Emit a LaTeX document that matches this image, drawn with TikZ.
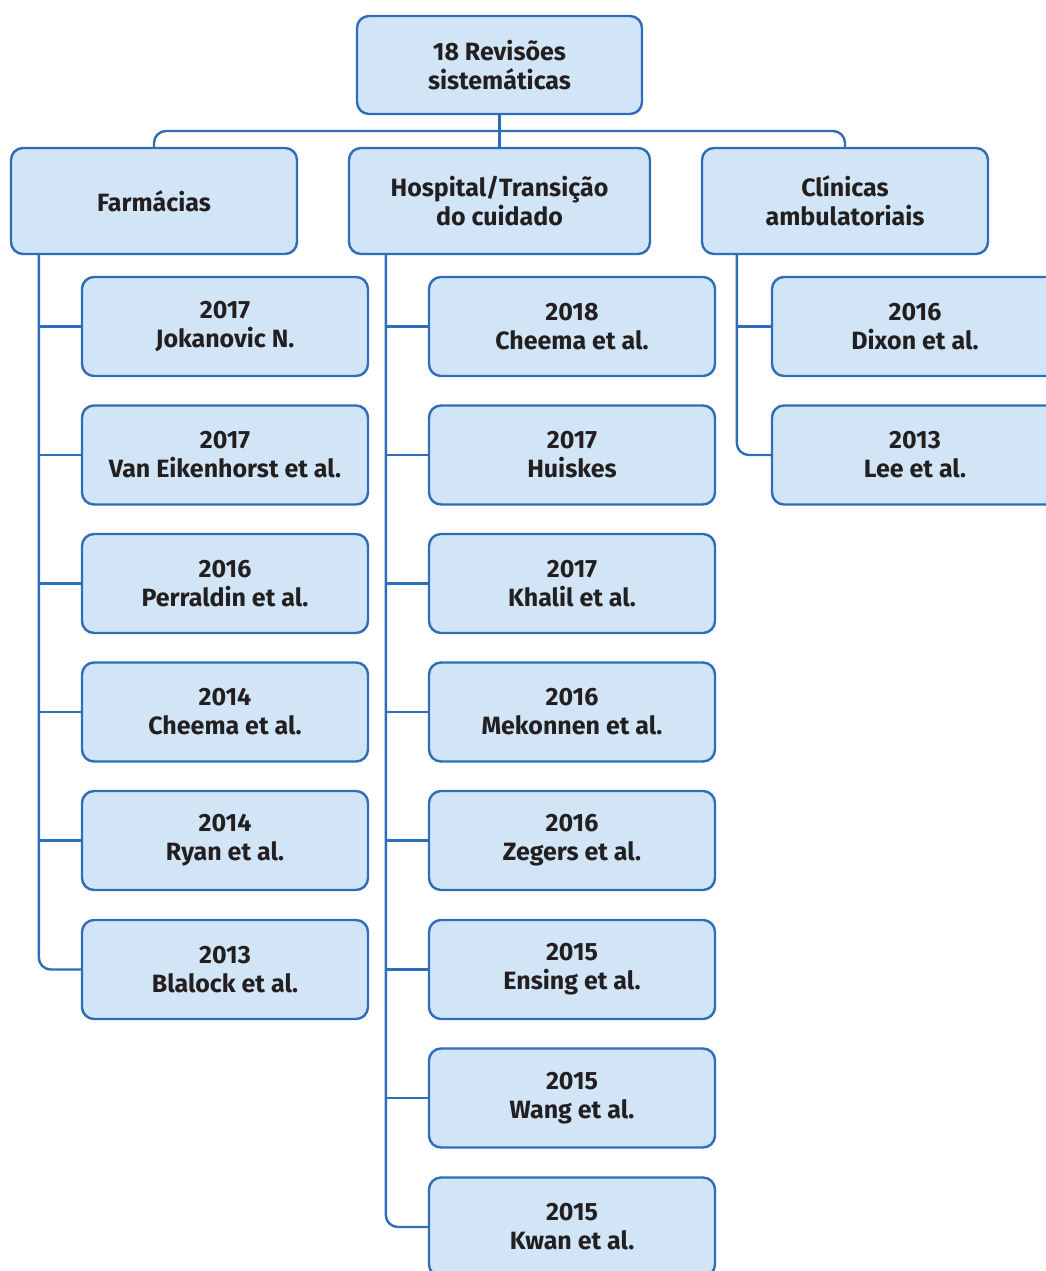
\documentclass[tikz,border=0pt]{standalone}
\usepackage{fontspec}
\setmainfont{Fira Sans}
\definecolor{boxfill}{HTML}{D2E5F6}
\definecolor{boxline}{HTML}{2F6DB8}
\definecolor{txt}{HTML}{231F20}
\begin{document}
\begin{tikzpicture}[x=1pt,y=-1pt,
  box/.style={draw=boxline, fill=boxfill, line width=2.4pt, rounded corners=12pt,
    align=center, text=txt, font=\fontsize{25}{29}\selectfont\bfseries, inner sep=0pt},
  leaf/.style={box, minimum width=286pt, minimum height=99pt},
  conn/.style={draw=boxline, line width=2.4pt, rounded corners=12pt}]
\useasboundingbox (0,0) rectangle (1046,1271);
\clip (0,0) rectangle (1046,1271);
% top levels
\node[box, minimum width=285pt, minimum height=98pt] (root) at (499.5,65) {18 Revisões\\sistemáticas};
\node[box, minimum width=286pt, minimum height=106pt] (farm) at (154,201) {Farmácias};
\node[box, minimum width=301pt, minimum height=106pt] (hosp) at (499.5,201) {Hospital/Transição\\do cuidado};
\node[box, minimum width=286pt, minimum height=106pt] (clin) at (845,201) {Clínicas\\ambulatoriais};
% leaves: Farmácias
\node[leaf] (f1) at (225,326.5) {2017\\Jokanovic N.};
\node[leaf] (f2) at (225,455) {2017\\Van Eikenhorst et al.};
\node[leaf] (f3) at (225,583.5) {2016\\Perraldin et al.};
\node[leaf] (f4) at (225,712) {2014\\Cheema et al.};
\node[leaf] (f5) at (225,840.5) {2014\\Ryan et al.};
\node[leaf] (f6) at (225,969.5) {2013\\Blalock et al.};
% leaves: Hospital
\node[leaf] (h1) at (572,326.5) {2018\\Cheema et al.};
\node[leaf] (h2) at (572,455) {2017\\Huiskes};
\node[leaf] (h3) at (572,583.5) {2017\\Khalil et al.};
\node[leaf] (h4) at (572,712) {2016\\Mekonnen et al.};
\node[leaf] (h5) at (572,840.5) {2016\\Zegers et al.};
\node[leaf] (h6) at (572,969.5) {2015\\Ensing et al.};
\node[leaf] (h7) at (572,1098) {2015\\Wang et al.};
\node[leaf] (h8) at (572,1227) {2015\\Kwan et al.};
% leaves: Clínicas
\node[leaf] (c1) at (915,326.5) {2016\\Dixon et al.};
\node[leaf] (c2) at (915,455) {2013\\Lee et al.};
% connectors
\coordinate (bus) at (499.5,131);
\draw[conn] (root) -- (hosp);
\draw[conn] (farm.north) |- (bus) -| (clin.north);
\coordinate (fs) at ([xshift=29pt]farm.south west);
\coordinate (hs) at ([xshift=38pt]hosp.south west);
\coordinate (cs) at ([xshift=36pt]clin.south west);
\draw[conn] (fs) |- (f6.west);
\foreach \i in {1,...,5} {\draw[conn] (f\i.west) -- (f\i.west -| fs);}
\draw[conn] (hs) |- (h8.west);
\foreach \i in {1,...,7} {\draw[conn] (h\i.west) -- (h\i.west -| hs);}
\draw[conn] (cs) |- (c2.west);
\draw[conn] (c1.west) -- (c1.west -| cs);
\end{tikzpicture}
\end{document}
